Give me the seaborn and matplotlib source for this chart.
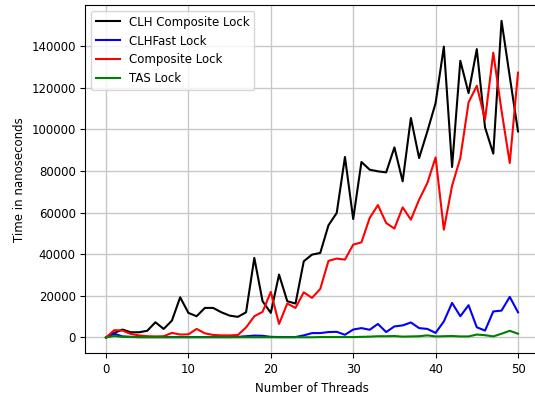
import numpy as np
import pandas as pd
import matplotlib
matplotlib.use("Agg")
import matplotlib.pyplot as plt
import seaborn as sns

threads = list(range(51))

clh_composite = [
    0, 2200, 3800, 2500, 2500, 3200, 7300, 4100, 8100, 19300,
    11800, 10200, 14200, 14200, 12100, 10500, 9900, 12100, 38200, 17400,
    11800, 30200, 17400, 16300, 36600, 39800, 40600, 53900, 59800, 86700,
    56900, 84300, 80600, 79800, 79300, 91300, 75000, 105400, 86200, 99000,
    112600, 139700, 81900, 132900, 117400, 138500, 100900, 88300, 152100, 125300,
    99000,
]

clh_fast = [
    0, 1800, 500, 300, 200, 200, 200, 200, 200, 200,
    200, 200, 200, 200, 200, 200, 300, 600, 900, 800,
    300, 200, 200, 200, 1000, 2100, 2100, 2600, 2700, 1300,
    3800, 4500, 3700, 6500, 2600, 5300, 5800, 7200, 4500, 4100,
    2200, 7700, 16600, 10200, 15500, 4900, 3300, 12500, 12900, 19500,
    12100,
]

composite = [
    0, 3500, 3300, 1700, 1000, 600, 500, 600, 2200, 1400,
    1500, 4100, 2000, 1200, 1000, 1000, 1200, 4800, 10200, 12300,
    21900, 6500, 16300, 14200, 21700, 19000, 23300, 36800, 37900, 37400,
    44600, 45700, 57400, 63600, 55000, 52300, 62500, 56600, 66200, 74200,
    86500, 51800, 72900, 86200, 112900, 120900, 104600, 136800, 109000, 83800,
    127200,
]

tas = [
    0, 700, 300, 200, 100, 100, 100, 100, 100, 100,
    100, 100, 100, 100, 100, 100, 100, 100, 100, 100,
    100, 100, 100, 100, 100, 100, 200, 200, 200, 200,
    200, 300, 400, 600, 600, 700, 400, 500, 600, 1000,
    500, 600, 700, 500, 500, 1400, 1100, 500, 1800, 3200,
    1800,
]

series_names = ["CLH Composite Lock", "CLHFast Lock", "Composite Lock", "TAS Lock"]
series_values = [clh_composite, clh_fast, composite, tas]
colors = ["black", "blue", "red", "green"]

frames = [
    pd.DataFrame({"threads": threads, "time": vals, "lock": name})
    for name, vals in zip(series_names, series_values)
]
df = pd.concat(frames, ignore_index=True)

fig = plt.figure(figsize=(5.35, 3.96), dpi=100)
ax = fig.add_axes([85.4 / 535, 42.7 / 396, 453.2 / 535, 348.3 / 396])

sns.lineplot(
    data=df, x="threads", y="time", hue="lock",
    hue_order=series_names, palette=dict(zip(series_names, colors)),
    linewidth=1.5, ax=ax,
)

ax.set_xlim(-2.5, 52.5)
ax.set_ylim(-7605, 159705)
ax.set_xticks(range(0, 51, 10))
ax.set_yticks(range(0, 140001, 20000))
ax.grid(True, color="#c8c8c8", linewidth=1.0)
ax.set_axisbelow(True)
ax.tick_params(labelsize=8.5, length=3.5, width=0.8)
ax.set_xlabel("Number of Threads", fontsize=8.5)
ax.set_ylabel("Time in nanoseconds", fontsize=8.5)
for s in ax.spines.values():
    s.set_linewidth(0.8)
ax.spines["right"].set_visible(False)

leg = ax.legend(loc="upper left", fontsize=8.5, frameon=True, framealpha=0.8,
                edgecolor="#cccccc", handlelength=2.0)
leg.set_title(None)

fig.savefig("out.png", dpi=100)
